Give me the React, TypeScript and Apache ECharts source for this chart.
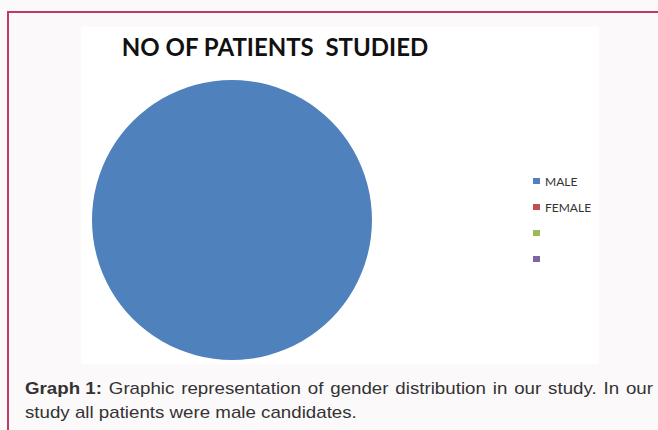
import React, { useEffect, useRef } from "react";
import * as echarts from "echarts";

const categories = ["MALE", "FEMALE", " ", "  "];
const values = [100, 0, 0, 0];
const colors = ["#4f81bd", "#c0504d", "#9bbb59", "#8064a2"];
const titleText = "NO OF PATIENTS  STUDIED";
const captionBold = "Graph 1:";
const captionLine1 = "Graphic representation of gender distribution in our study. In our";
const captionLine2 = "study all patients were male candidates.";

const CAP_FONT = "Liberation Sans";
const CAP_SIZE = 16;
const CAP_SCALE = 1.17;

function measure(text: string, bold: boolean): number {
  const c = document.createElement("canvas").getContext("2d");
  if (!c) return text.length * CAP_SIZE * 0.5;
  c.font = (bold ? "bold " : "") + CAP_SIZE + "px '" + CAP_FONT + "'";
  return c.measureText(text).width;
}

function captionGraphics() {
  const left = 25;
  const right = 653;
  const y1 = 388;
  const y2 = 412;
  const words = [{ t: captionBold, b: true }].concat(
    captionLine1.split(" ").map((w) => ({ t: w, b: false }))
  );
  const widths = words.map((w) => measure(w.t, w.b) * CAP_SCALE);
  const total = widths.reduce((a, b) => a + b, 0);
  const gap = (right - left - total) / (words.length - 1);
  const els: any[] = [];
  let x = left;
  words.forEach((w, i) => {
    els.push({
      type: "text",
      x,
      y: y1,
      scaleX: CAP_SCALE,
      style: {
        text: w.t,
        fontFamily: CAP_FONT,
        fontSize: CAP_SIZE,
        fontWeight: w.b ? "bold" : "normal",
        fill: "#333",
        verticalAlign: "middle",
        align: "left",
      },
    });
    x += widths[i] + gap;
  });
  els.push({
    type: "text",
    x: left,
    y: y2,
    scaleX: CAP_SCALE,
    style: {
      text: captionLine2,
      fontFamily: CAP_FONT,
      fontSize: CAP_SIZE,
      fill: "#333",
      verticalAlign: "middle",
      align: "left",
    },
  });
  return els;
}

export default function App() {
  const ref = useRef<HTMLDivElement>(null);
  useEffect(() => {
    if (!ref.current) return;
    const chart = echarts.init(ref.current, undefined, { renderer: "svg" });
    chart.setOption({
      animation: false,
      backgroundColor: "#fcf9fa",
      color: colors,
      title: {
        text: titleText,
        left: 270,
        top: 29,
        textAlign: "center",
        textStyle: { fontFamily: "Lato", fontWeight: "bold", fontSize: 24, color: "#111" },
      },
      legend: {
        orient: "vertical",
        left: 533,
        top: 175,
        padding: 0,
        data: categories,
        icon: "rect",
        itemWidth: 7,
        itemHeight: 6,
        itemGap: 14,
        textStyle: { fontFamily: "Lato", fontSize: 12, color: "#333", lineHeight: 12 },
        selectedMode: false,
      },
      graphic: [
        { type: "rect", z: -10, shape: { x: 81, y: 27, width: 518, height: 337 }, style: { fill: "#ffffff" } },
        { type: "line", shape: { x1: 8, y1: 12, x2: 658, y2: 12 }, style: { stroke: "#c23a62", lineWidth: 2 } },
        { type: "line", shape: { x1: 8, y1: 11, x2: 8, y2: 430 }, style: { stroke: "#c23a62", lineWidth: 2 } },
        ...captionGraphics(),
      ],
      series: [
        {
          type: "pie",
          center: [232, 220],
          radius: [0, 140],
          startAngle: 90,
          label: { show: false },
          labelLine: { show: false },
          emphasis: { disabled: true },
          itemStyle: { borderWidth: 0 },
          data: categories.map((c, i) => ({ name: c, value: values[i] })),
        },
      ],
    });
    return () => chart.dispose();
  }, []);
  return <div ref={ref} style={{ position: "fixed", left: 0, top: 0, width: 658, height: 430 }} />;
}
